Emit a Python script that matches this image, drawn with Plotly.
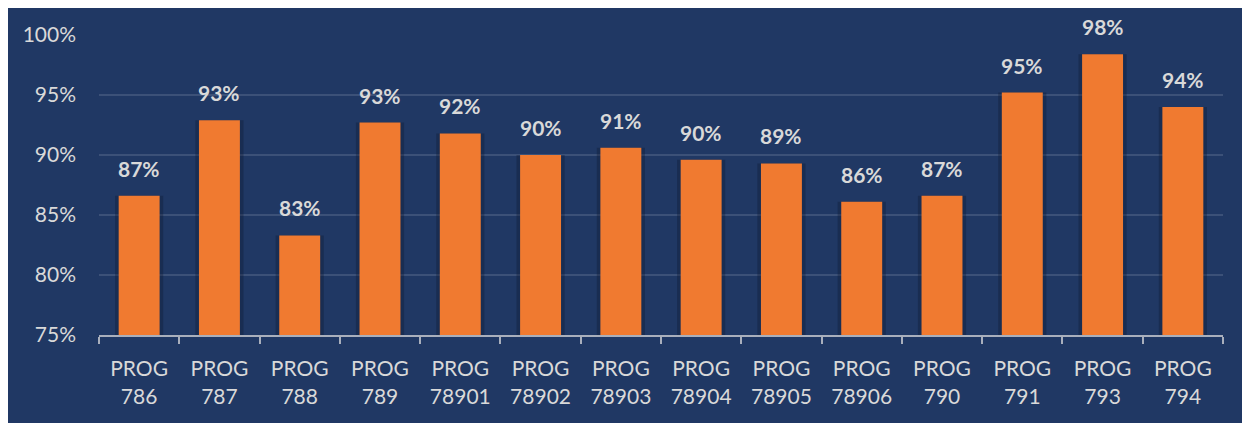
import plotly.graph_objects as go

categories = ["PROG<br>786", "PROG<br>787", "PROG<br>788", "PROG<br>789", "PROG<br>78901",
              "PROG<br>78902", "PROG<br>78903", "PROG<br>78904", "PROG<br>78905", "PROG<br>78906",
              "PROG<br>790", "PROG<br>791", "PROG<br>793", "PROG<br>794"]
values = [86.6, 92.9, 83.3, 92.7, 91.8, 90.0, 90.6, 89.6, 89.3, 86.1, 86.6, 95.2, 98.4, 94.0]
y_ticks = [75, 80, 85, 90, 95, 100]
y_tick_labels = ["75%", "80%", "85%", "90%", "95%", "100%"]

NAVY = "#203864"
TXT = "#D9D9D9"
FONT = "Lato"
BASE = 75

heights = [v - BASE for v in values]

fig = go.Figure()
# soft shadow behind bars
fig.add_trace(go.Bar(x=categories, y=heights, base=BASE, width=0.6,
                     marker=dict(color="rgba(15,25,50,0.35)", line=dict(width=0)),
                     hoverinfo="skip", showlegend=False))
fig.add_trace(go.Bar(x=categories, y=heights, base=BASE, width=0.51,
                     marker=dict(color="#F07A30", line=dict(width=0)),
                     showlegend=False))

for c, v in zip(categories, values):
    fig.add_annotation(x=c, y=v, text=f"{round(v)}%", showarrow=False, yanchor="bottom",
                       yshift=13, font=dict(family=FONT, size=21, color=TXT, weight="bold"))

W, H = 1242, 415
L, R, T, B = 91, 27, 27, 88
pw, ph = W - L - R, H - T - B
fig.add_shape(type="rect", xref="paper", yref="paper", layer="below",
              x0=-L / pw, x1=(W - L) / pw + 0.01, y0=-B / ph - 0.02, y1=(H - B) / ph,
              fillcolor=NAVY, line=dict(width=0))

fig.update_layout(
    width=W, height=H, margin=dict(l=L, r=R, t=T, b=B),
    paper_bgcolor="white", plot_bgcolor=NAVY, barmode="overlay",
    font=dict(family=FONT, color=TXT),
    xaxis=dict(type="category", showgrid=False, showline=True, linecolor="#A9AFBC", linewidth=2,
               ticks="outside", tickson="boundaries", ticklen=7, tickwidth=2, tickcolor="#A9AFBC",
               ticklabelstandoff=14,
               tickfont=dict(family=FONT, size=21, color=TXT)),
    yaxis=dict(range=[75, 100], tickvals=y_ticks, ticktext=y_tick_labels, showgrid=True,
               gridcolor="rgba(255,255,255,0.13)", gridwidth=2, zeroline=False, showline=False,
               ticklabelstandoff=22, tickfont=dict(family=FONT, size=21, color=TXT)),
)
fig.write_html("out.html")
